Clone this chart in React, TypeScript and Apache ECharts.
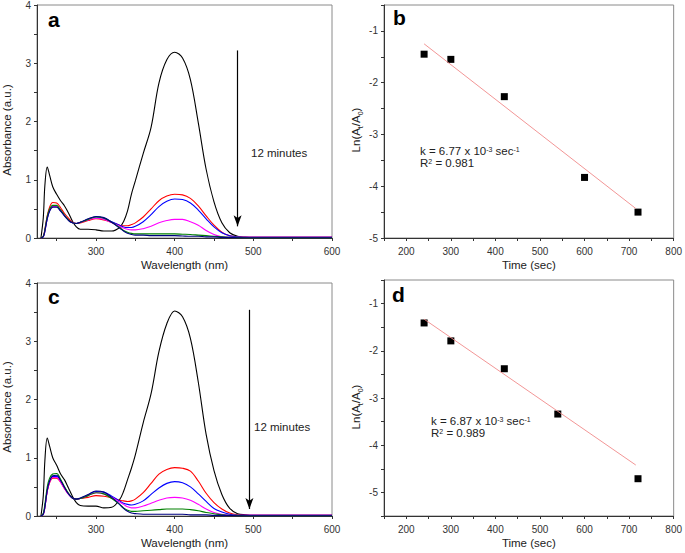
import React, { useEffect, useRef } from 'react';
import * as echarts from 'echarts';

const FONT = "'Liberation Sans', Arial, sans-serif";

// Wavelength grid (nm)
const wavelengths = [230, 233, 235, 238, 241, 245, 250, 255, 260, 265, 270, 275, 280, 290, 300, 310, 320, 330, 335, 340, 345, 350, 360, 370, 380, 390, 400, 410, 420, 430, 440, 450, 460, 470, 480, 490, 500, 550, 600];

// Panel a spectra
const aBlack = [0, 0.35, 0.9, 1.22, 1.08, 0.88, 0.75, 0.64, 0.55, 0.43, 0.29, 0.19, 0.15, 0.15, 0.14, 0.12, 0.12, 0.18, 0.28, 0.46, 0.75, 0.98, 1.45, 1.9, 2.66, 3.06, 3.19, 3.09, 2.72, 1.98, 1.18, 0.62, 0.26, 0.09, 0.03, 0.015, 0.01, 0.01, 0.01];
const aRed = [0, 0.03, 0.15, 0.38, 0.53, 0.61, 0.6, 0.52, 0.42, 0.34, 0.27, 0.25, 0.26, 0.3, 0.33, 0.31, 0.27, 0.22, 0.21, 0.21, 0.23, 0.26, 0.36, 0.5, 0.64, 0.72, 0.75, 0.74, 0.68, 0.55, 0.38, 0.22, 0.1, 0.04, 0.02, 0.01, 0.01, 0.01, 0.01];
const aBlue = [0, 0.02, 0.12, 0.33, 0.47, 0.54, 0.54, 0.47, 0.38, 0.31, 0.26, 0.25, 0.27, 0.32, 0.36, 0.34, 0.28, 0.22, 0.19, 0.18, 0.18, 0.2, 0.28, 0.4, 0.54, 0.63, 0.67, 0.66, 0.6, 0.48, 0.33, 0.19, 0.09, 0.04, 0.02, 0.01, 0.01, 0.01, 0.01];
const aMagenta = [0, 0.02, 0.12, 0.34, 0.48, 0.54, 0.54, 0.47, 0.38, 0.31, 0.26, 0.25, 0.27, 0.31, 0.34, 0.32, 0.26, 0.2, 0.17, 0.15, 0.14, 0.14, 0.16, 0.2, 0.26, 0.3, 0.32, 0.32, 0.28, 0.22, 0.13, 0.06, 0.02, 0.01, 0.01, 0.01, 0.01, 0.01, 0.01];
const aGreen = [0, 0.03, 0.14, 0.37, 0.5, 0.56, 0.56, 0.48, 0.39, 0.31, 0.26, 0.25, 0.27, 0.32, 0.36, 0.34, 0.27, 0.18, 0.13, 0.1, 0.08, 0.07, 0.07, 0.07, 0.07, 0.07, 0.07, 0.065, 0.06, 0.05, 0.04, 0.03, 0.02, 0.01, 0.01, 0.005, 0.005, 0.005, 0.005];
const aNavy = [0, 0.02, 0.12, 0.33, 0.46, 0.53, 0.53, 0.46, 0.38, 0.3, 0.26, 0.25, 0.27, 0.33, 0.37, 0.35, 0.27, 0.17, 0.12, 0.08, 0.06, 0.05, 0.05, 0.04, 0.04, 0.04, 0.04, 0.035, 0.03, 0.03, 0.02, 0.02, 0.01, 0.01, 0.005, 0.005, 0.005, 0.005, 0.005];

// Panel c spectra
const cBlack = [0, 0.35, 0.95, 1.34, 1.2, 1.0, 0.87, 0.72, 0.62, 0.48, 0.34, 0.23, 0.18, 0.17, 0.17, 0.14, 0.15, 0.28, 0.42, 0.62, 0.82, 1.05, 1.6, 2.1, 2.82, 3.3, 3.52, 3.42, 3.05, 2.3, 1.4, 0.78, 0.37, 0.13, 0.04, 0.02, 0.01, 0.01, 0.01];
const cRed = [0, 0.03, 0.15, 0.42, 0.57, 0.65, 0.65, 0.58, 0.47, 0.38, 0.31, 0.29, 0.3, 0.32, 0.35, 0.34, 0.31, 0.27, 0.26, 0.25, 0.26, 0.29, 0.4, 0.56, 0.72, 0.8, 0.83, 0.82, 0.77, 0.6, 0.39, 0.23, 0.12, 0.05, 0.02, 0.01, 0.01, 0.01, 0.01];
const cBlue = [0, 0.03, 0.16, 0.44, 0.6, 0.68, 0.68, 0.6, 0.48, 0.38, 0.31, 0.29, 0.3, 0.36, 0.42, 0.41, 0.34, 0.26, 0.22, 0.2, 0.19, 0.2, 0.26, 0.37, 0.48, 0.56, 0.59, 0.57, 0.5, 0.38, 0.25, 0.13, 0.07, 0.03, 0.01, 0.01, 0.01, 0.01, 0.01];
const cMagenta = [0, 0.03, 0.15, 0.43, 0.58, 0.66, 0.66, 0.58, 0.47, 0.37, 0.31, 0.29, 0.3, 0.35, 0.4, 0.38, 0.32, 0.24, 0.2, 0.16, 0.14, 0.14, 0.17, 0.22, 0.27, 0.31, 0.32, 0.31, 0.27, 0.2, 0.12, 0.06, 0.03, 0.01, 0.01, 0.01, 0.01, 0.01, 0.01];
const cGreen = [0, 0.05, 0.2, 0.5, 0.65, 0.72, 0.73, 0.63, 0.5, 0.39, 0.31, 0.29, 0.3, 0.35, 0.4, 0.38, 0.3, 0.2, 0.14, 0.1, 0.08, 0.08, 0.09, 0.1, 0.11, 0.12, 0.12, 0.12, 0.11, 0.09, 0.06, 0.04, 0.02, 0.01, 0.01, 0.005, 0.005, 0.005, 0.005];
const cNavy = [0, 0.03, 0.15, 0.44, 0.6, 0.69, 0.7, 0.61, 0.49, 0.38, 0.31, 0.29, 0.31, 0.37, 0.43, 0.41, 0.32, 0.2, 0.13, 0.08, 0.05, 0.04, 0.03, 0.03, 0.03, 0.03, 0.03, 0.03, 0.02, 0.02, 0.02, 0.01, 0.01, 0.01, 0.005, 0.005, 0.005, 0.005, 0.005];

const spectraColors = ['#000000', '#ff0000', '#0000ff', '#ff00ff', '#008000', '#000080'];

// Kinetics panel b
const timeB = [240, 300, 420, 600, 720];
const lnB = [-1.45, -1.55, -2.27, -3.83, -4.5];
const fitBx = [240, 715];
const fitBy = [-1.25, -4.43];

// Kinetics panel d
const timeD = [240, 300, 420, 540, 720];
const lnD = [-1.41, -1.79, -2.38, -3.34, -4.71];
const fitDx = [240, 715];
const fitDy = [-1.33, -4.42];

// Ticks
const wlTicks = [250, 300, 350, 400, 450, 500, 550, 600];
const wlLabels = [300, 400, 500, 600];

const axisColor = '#333';

function spectraX(gridIndex: number) {
  return {
    gridIndex, type: 'value', min: 225, max: 600,
    axisLine: { show: true, onZero: false, lineStyle: { color: axisColor, width: 1 } },
    axisTick: { show: true, customValues: wlTicks, length: 3, lineStyle: { color: axisColor } },
    axisLabel: { customValues: wlLabels, fontSize: 10, color: '#333', margin: 8, fontFamily: FONT },
    splitLine: { show: false },
    name: 'Wavelength (nm)', nameLocation: 'middle', nameGap: 21,
    nameTextStyle: { fontSize: 11.5, color: '#222', fontFamily: FONT },
  };
}
function spectraY(gridIndex: number) {
  return {
    gridIndex, type: 'value', min: 0, max: 4, interval: 0.5,
    axisLine: { show: true, onZero: false, lineStyle: { color: axisColor, width: 1 } },
    axisTick: { show: true, length: 3, lineStyle: { color: axisColor } },
    axisLabel: { fontSize: 10, color: '#333', margin: 6, fontFamily: FONT,
      formatter: (v: number) => (Number.isInteger(v) ? String(v) : '') },
    splitLine: { show: false },
  };
}
function timeX(gridIndex: number) {
  return {
    gridIndex, type: 'value', min: 150, max: 800, interval: 50,
    axisLine: { show: true, onZero: false, lineStyle: { color: axisColor, width: 1 } },
    axisTick: { show: true, length: 3, lineStyle: { color: axisColor } },
    axisLabel: { fontSize: 10, color: '#333', margin: 8, fontFamily: FONT,
      formatter: (v: number) => (v % 100 === 0 && v >= 200 ? String(v) : '') },
    splitLine: { show: false },
    name: 'Time (sec)', nameLocation: 'middle', nameGap: 21,
    nameTextStyle: { fontSize: 11.5, color: '#222', fontFamily: FONT },
  };
}
function lnY(gridIndex: number, min: number) {
  return {
    gridIndex, type: 'value', min, max: -0.5, interval: 0.5,
    axisLine: { show: true, onZero: false, lineStyle: { color: axisColor, width: 1 } },
    axisTick: { show: true, length: 3, lineStyle: { color: axisColor } },
    axisLabel: { fontSize: 10, color: '#333', margin: 6, fontFamily: FONT,
      formatter: (v: number) => (Number.isInteger(v) ? String(v) : '') },
    splitLine: { show: false },
  };
}

function spectraSeries(idx: number, sets: number[][], arrow: { x: number; y0: number; y1: number }) {
  return sets.map((vals, i) => ({
    type: 'line', xAxisIndex: idx, yAxisIndex: idx, showSymbol: false, symbol: 'none',
    smooth: 0.35,
    lineStyle: { color: spectraColors[i], width: 1.1 },
    data: wavelengths.map((w, k) => [w, vals[k]]),
    markLine: i === 0 ? {
      silent: true, symbol: ['none', 'arrow'], symbolSize: [6, 11],
      label: { show: false },
      lineStyle: { color: '#000', width: 1.2, type: 'solid' },
      data: [[{ coord: [arrow.x, arrow.y0] }, { coord: [arrow.x, arrow.y1] }]],
    } : undefined,
  }));
}

function kineticsSeries(idx: number, tx: number[], ty: number[], fx: number[], fy: number[]) {
  return [
    {
      type: 'line', xAxisIndex: idx, yAxisIndex: idx, showSymbol: false, symbol: 'none',
      lineStyle: { color: '#f08a8a', width: 0.9 },
      data: fx.map((x, k) => [x, fy[k]]),
    },
    {
      type: 'scatter', xAxisIndex: idx, yAxisIndex: idx, symbol: 'rect', symbolSize: 7,
      itemStyle: { color: '#000', opacity: 1 },
      data: tx.map((x, k) => [x, ty[k]]),
    },
  ];
}

const nRich = { fontSize: 11.5, lineHeight: 16, fontFamily: FONT, color: '#222' };
const subRich = { fontSize: 7, lineHeight: 7, verticalAlign: 'bottom', fontFamily: FONT, color: '#222' };
const nAnn = { fontSize: 11.5, lineHeight: 11, fontFamily: FONT, color: '#222' };
const supAnn = { fontSize: 7, lineHeight: 3, verticalAlign: 'top', fontFamily: FONT, color: '#222' };

function txt(x: number, y: number, text: string, extra: any = {}) {
  return {
    type: 'text', x, y, silent: true,
    style: { text, fontSize: 11.5, fontFamily: FONT, fill: '#222', align: 'left', verticalAlign: 'middle', ...extra },
  };
}
function letter(x: number, y: number, t: string) {
  return txt(x, y, t, { fontSize: 21, fontWeight: 'bold', fill: '#000' });
}
function yTitle(x: number, y: number, text: string) {
  return {
    type: 'text', x, y, rotation: Math.PI / 2, silent: true,
    style: { text, fontSize: 11.5, fontFamily: FONT, fill: '#222', align: 'center', verticalAlign: 'middle',
      rich: { n: nRich, s: subRich } },
  };
}
function richLine(x: number, y: number, text: string) {
  return {
    type: 'text', x, y, silent: true,
    style: { text, fontSize: 11.5, fontFamily: FONT, fill: '#222', align: 'left', verticalAlign: 'middle',
      rich: { n: nAnn, p: supAnn } },
  };
}

export default function App() {
  const ref = useRef<HTMLDivElement>(null);
  useEffect(() => {
    const chart = echarts.init(ref.current!, null, { renderer: 'svg' });
    const option: any = {
      animation: false,
      backgroundColor: '#ffffff',
      textStyle: { fontFamily: FONT },
      grid: [
        { left: 37, top: 5, width: 295, height: 233, show: true, borderColor: '#8a8a8a', borderWidth: 1 },
        { left: 384, top: 5, width: 293, height: 233, show: true, borderColor: '#8a8a8a', borderWidth: 1 },
        { left: 37, top: 283, width: 295, height: 233, show: true, borderColor: '#8a8a8a', borderWidth: 1 },
        { left: 384, top: 280, width: 293, height: 236, show: true, borderColor: '#8a8a8a', borderWidth: 1 },
      ],
      xAxis: [spectraX(0), timeX(1), spectraX(2), timeX(3)],
      yAxis: [spectraY(0), lnY(1, -5), spectraY(2), lnY(3, -5.5)],
      series: [
        ...spectraSeries(0, [aBlack, aRed, aBlue, aMagenta, aGreen, aNavy], { x: 480, y0: 3.22, y1: 0.2 }),
        ...kineticsSeries(1, timeB, lnB, fitBx, fitBy),
        ...spectraSeries(2, [cBlack, cRed, cBlue, cMagenta, cGreen, cNavy], { x: 495, y0: 3.54, y1: 0.12 }),
        ...kineticsSeries(3, timeD, lnD, fitDx, fitDy),
      ],
      graphic: [
        letter(48, 19, 'a'),
        letter(393, 17, 'b'),
        letter(48, 296, 'c'),
        letter(392, 294, 'd'),
        txt(251, 153, '12 minutes'),
        txt(254, 427, '12 minutes'),
        yTitle(7, 130, '{n|Absorbance (a.u.)}'),
        yTitle(7, 407, '{n|Absorbance (a.u.)}'),
        yTitle(356, 130, '{n|Ln(A}{s|t}{n|/A}{s|0}{n|)}'),
        yTitle(356, 407, '{n|Ln(A}{s|t}{n|/A}{s|0}{n|)}'),
        richLine(420, 151, '{n|k = 6.77 x 10}{p|-3}{n| sec}{p|-1}'),
        richLine(420, 163, '{n|R}{p|2}{n| = 0.981}'),
        richLine(431, 421, '{n|k = 6.87 x 10}{p|-3}{n| sec}{p|-1}'),
        richLine(431, 433, '{n|R}{p|2}{n| = 0.989}'),
      ],
    };
    chart.setOption(option);
    return () => chart.dispose();
  }, []);
  return <div ref={ref} style={{ position: 'absolute', left: 0, top: 0, width: 685, height: 553 }} />;
}
